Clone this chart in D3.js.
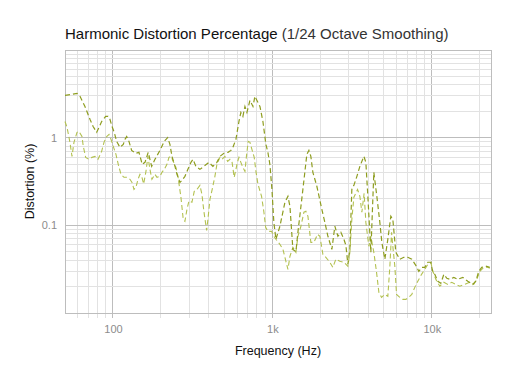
<!DOCTYPE html>
<html>
<head>
<meta charset="utf-8">
<script src="https://cdn.jsdelivr.net/npm/d3@7.9.0/dist/d3.min.js"></script>
<style>
  html, body { margin: 0; padding: 0; background: #fff; }
  svg { display: block; font-family: "Liberation Sans", Arial, sans-serif; }
</style>
</head>
<body>
<svg id="chart" width="512" height="384"></svg>
<script>
const titleMain = 'Harmonic Distortion Percentage';
const titleSub = ' (1/24 Octave Smoothing)';
const xLabel = 'Frequency (Hz)';
const yLabel = 'Distortion (%)';

const xDomain = [50, 23500];
const yDomain = [0.01, 10];
const xTicks = [100, 1000, 10000];
const xTickLabels = ['100', '1k', '10k'];
const yTicks = [0.1, 1];
const yTickLabels = ['0.1', '1'];

// darker series
const freqA = [50, 55.3, 59.5, 62.1, 66.7, 71.7, 74.9, 79, 81.7, 84.9, 90, 93.1, 95.7, 98.5, 101.8,
  105.4, 110.6, 116, 118.9, 121.9, 125.9, 130.9, 138.7, 145.5, 152.6, 158.7, 166.3, 174.8, 183.3,
  197, 209.7, 220.2, 227.6, 234.4, 244.8, 251.9, 263, 270.8, 282.6, 295, 308.3, 317.3, 331.3,
  350.8, 371.6, 399.6, 423.3, 448.5, 468.5, 496.4, 525.9, 549.4, 565, 590.3, 616.7, 634, 653,
  672.4, 692, 722.8, 755, 776.6, 799.8, 835, 871.8, 910, 937, 964, 993, 1021, 1052, 1114, 1198,
  1251, 1288, 1344, 1404, 1445, 1553, 1644, 1694, 1742, 1794, 1900, 2042, 2133, 2229, 2360, 2464,
  2575, 2689, 2808, 2890, 2974, 3060, 3149, 3243, 3387, 3537, 3747, 3856, 3969, 4144, 4327, 4519,
  4719, 4857, 5072, 5296, 5531, 5692, 5944, 6297, 6671, 7067, 7486, 7931, 8284, 8652, 9036, 9437,
  9856, 10144, 10440, 10903, 11387, 11893, 12420, 12972, 13741, 14556, 15640, 16804, 18055, 18857,
  19694, 20569, 21789, 23082];
const distA = [3.04, 3.12, 3.2, 2.96, 2.27, 1.62, 1.35, 1.15, 1.31, 1.53, 1.75, 1.75, 1.62, 1.35, 1.15,
  0.908, 0.775, 0.839, 0.956, 1.03, 0.908, 0.716, 0.662, 0.68, 0.496, 0.523, 0.68, 0.471, 0.566,
  0.716, 0.908, 1.0, 0.839, 0.612, 0.471, 0.382, 0.309, 0.326, 0.362, 0.435, 0.523, 0.566, 0.471,
  0.435, 0.471, 0.523, 0.471, 0.523, 0.612, 0.662, 0.68, 0.716, 0.775, 0.956, 1.53, 1.94, 1.75,
  2.27, 1.94, 2.66, 2.27, 2.96, 2.66, 2.27, 1.53, 0.839, 0.68, 0.496, 0.257, 0.108, 0.0693, 0.0975, 0.183,
  0.214, 0.165, 0.0532, 0.05, 0.0832, 0.257, 0.645, 0.716, 0.612, 0.402, 0.279, 0.152, 0.108, 0.075, 0.0532, 0.0975,
  0.075, 0.0832, 0.0693, 0.0591, 0.0359, 0.0532, 0.257, 0.286, 0.362, 0.471, 0.612, 0.523, 0.214, 0.0492, 0.402, 0.214,
  0.108, 0.064, 0.041, 0.0693, 0.127, 0.117, 0.0492, 0.041, 0.0432, 0.0432, 0.041, 0.035, 0.0299, 0.0332, 0.0332, 0.0379,
  0.0379, 0.0291, 0.0276, 0.023, 0.0218, 0.0276, 0.0249, 0.0242, 0.0255, 0.0242, 0.0255, 0.023, 0.0212, 0.023,
  0.0299, 0.0332, 0.0342, 0.0332];

// lighter series
const freqB = [50, 51.5, 53.7, 55.3, 56.9, 59.5, 61.2, 63.9, 65.1, 67.4, 70.7, 73.8, 77.1, 80.5, 84.9,
  87.8, 91.3, 94.4, 97.2, 100.4, 104.4, 107.9, 112.2, 117.2, 122.4, 127.8, 131.6, 135.4, 139.3,
  143.5, 147.6, 151.3, 155.7, 161, 165.6, 170.5, 175.5, 183.3, 188.7, 197, 202.8, 209.7, 218,
  224.4, 231, 238.7, 248.2, 255.5, 266.8, 275.8, 282.6, 291, 299.5, 312.7, 323.4, 336.3, 350.8,
  361.3, 371.6, 386.7, 394, 405.6, 419, 435.8, 448.5, 468.5, 482, 503.5, 523.7, 541.5, 557.4,
  575.8, 590.3, 603, 616.7, 634, 653, 672.4, 687, 705, 722.8, 743.6, 769, 788, 810.9, 855, 884.5,
  906.7, 937, 988, 1021, 1052, 1114, 1164, 1215, 1251, 1288, 1344, 1404, 1445, 1509, 1576, 1622,
  1670, 1742, 1820, 1919, 1985, 2073, 2164, 2292, 2393, 2500, 2648, 2808, 2974, 3060, 3149, 3243,
  3420, 3537, 3640, 3760, 3856, 4026, 4144, 4327, 4500, 4653, 4836, 5072, 5296, 5454, 5590, 5692,
  5860, 6006, 6297, 6578, 6870, 7172, 7486, 7817, 8164, 8618, 9036, 9437, 9856, 10144, 10590,
  11220, 11893, 12590, 13340, 14140, 14980, 16100, 17300, 18320, 19140, 20000, 21180, 22440, 23082];
const distB = [1.53, 1.31, 0.884, 0.612, 0.884, 1.15, 1.18, 1.03, 0.796, 0.596, 0.566, 0.596, 0.612, 0.566, 0.698,
  0.884, 1.03, 1.09, 0.956, 0.796, 0.645, 0.496, 0.382, 0.353, 0.353, 0.335, 0.309, 0.257, 0.271,
  0.335, 0.382, 0.362, 0.297, 0.413, 0.612, 0.435, 0.335, 0.382, 0.353, 0.362, 0.402, 0.435, 0.496,
  0.596, 0.612, 0.537, 0.458, 0.362, 0.209, 0.117, 0.111, 0.152, 0.19, 0.183, 0.244, 0.257, 0.286,
  0.226, 0.1445, 0.0877, 0.117, 0.198, 0.257, 0.362, 0.496, 0.596, 0.566, 0.612, 0.537, 0.566, 0.537,
  0.353, 0.435, 0.523, 0.596, 0.523, 0.458, 0.413, 0.612, 0.908, 0.884, 0.736, 0.596, 0.413, 0.297, 0.214, 0.141,
  0.0949, 0.0854, 0.0854, 0.075, 0.0693, 0.0607, 0.0532, 0.0389, 0.0315, 0.0443, 0.0561, 0.0492, 0.075, 0.0975, 0.141, 0.1445,
  0.127, 0.064, 0.064, 0.079, 0.075, 0.0467, 0.0432, 0.0379, 0.0332, 0.041, 0.0389, 0.0379, 0.0341, 0.0492, 0.117, 0.209,
  0.257, 0.214, 0.141, 0.232, 0.108, 0.0577, 0.075, 0.0492, 0.0291, 0.0172, 0.0151, 0.0163, 0.0155, 0.0341, 0.0832, 0.0577,
  0.0341, 0.0163, 0.0151, 0.0143, 0.0143, 0.0151, 0.0163, 0.0196, 0.023, 0.0276, 0.0315, 0.036, 0.0379, 0.0299, 0.0242,
  0.0202, 0.0224, 0.0212, 0.0224, 0.0212, 0.0202, 0.0212, 0.0224, 0.0212, 0.0242, 0.0299, 0.0332, 0.0332, 0.0324];

const colorA = '#8e9d1f';
const colorB = '#b3c150';

const margin = { top: 50, right: 21, bottom: 71, left: 65 };
const width = 512 - margin.left - margin.right;
const height = 384 - margin.top - margin.bottom;

const svg = d3.select('#chart');
const g = svg.append('g').attr('transform', `translate(${margin.left},${margin.top})`);

const x = d3.scaleLog().domain(xDomain).range([0, width]);
const y = d3.scaleLog().domain(yDomain).range([height, 0]);

// minor + major grid
const xGrid = [];
[10, 100, 1000, 10000].forEach((dec) => {
  for (let k = 1; k < 10; k++) {
    const v = dec * k;
    if (v > xDomain[0] && v < xDomain[1]) xGrid.push(v);
  }
});
const yGrid = [];
[0.01, 0.1, 1].forEach((dec) => {
  for (let k = 1; k < 10; k++) {
    const v = dec * k;
    if (v > yDomain[0] * 1.001 && v < yDomain[1] * 0.999) yGrid.push(v);
  }
});
const isMajor = (v) => Math.abs(Math.log10(v) - Math.round(Math.log10(v))) < 1e-6;

g.append('g')
  .selectAll('line')
  .data(xGrid)
  .join('line')
  .attr('x1', (d) => x(d))
  .attr('x2', (d) => x(d))
  .attr('y1', 0)
  .attr('y2', height + 5)
  .attr('stroke', (d) => (isMajor(d) ? '#bdbdbd' : '#e2e2e2'))
  .attr('stroke-width', 1)
  .attr('shape-rendering', 'crispEdges');

g.append('g')
  .selectAll('line')
  .data(yGrid)
  .join('line')
  .attr('x1', 0)
  .attr('x2', width)
  .attr('y1', (d) => y(d))
  .attr('y2', (d) => y(d))
  .attr('stroke', (d) => (isMajor(d) ? '#bdbdbd' : '#e2e2e2'))
  .attr('stroke-width', 1)
  .attr('shape-rendering', 'crispEdges');

g.append('rect')
  .attr('width', width)
  .attr('height', height)
  .attr('fill', 'none')
  .attr('stroke', '#bdbdbd')
  .attr('shape-rendering', 'crispEdges');

// axes
const xAxis = d3.axisBottom(x)
  .tickValues(xTicks)
  .tickFormat((d, i) => xTickLabels[i])
  .tickSize(0)
  .tickPadding(12);
const gx = g.append('g').attr('transform', `translate(0,${height})`).call(xAxis);
gx.select('.domain').remove();
gx.selectAll('text').attr('fill', '#8c8c8c').style('font-size', '11px');

const yAxis = d3.axisLeft(y)
  .tickValues(yTicks)
  .tickFormat((d, i) => yTickLabels[i])
  .tickSize(0)
  .tickPadding(8);
const gy = g.append('g').call(yAxis);
gy.select('.domain').remove();
gy.selectAll('text').attr('fill', '#8c8c8c').style('font-size', '11px');

// lines
const line = d3.line()
  .x((d) => x(d[0]))
  .y((d) => y(d[1]));

const seriesB = freqB.map((f, i) => [f, distB[i]]);
const seriesA = freqA.map((f, i) => [f, distA[i]]);

g.append('path')
  .datum(seriesB)
  .attr('d', line)
  .attr('fill', 'none')
  .attr('stroke', colorB)
  .attr('stroke-width', 1.1)
  .attr('stroke-dasharray', '5,3');

g.append('path')
  .datum(seriesA)
  .attr('d', line)
  .attr('fill', 'none')
  .attr('stroke', colorA)
  .attr('stroke-width', 1.2)
  .attr('stroke-dasharray', '5,3');

// titles
const title = svg.append('text')
  .attr('x', margin.left)
  .attr('y', 39)
  .style('font-size', '15px')
  .attr('fill', '#111');
title.append('tspan').text(titleMain).style('font-weight', '500');
title.append('tspan').text(titleSub).attr('fill', '#333');

svg.append('text')
  .attr('x', margin.left + width / 2)
  .attr('y', 355)
  .attr('text-anchor', 'middle')
  .style('font-size', '12.5px')
  .attr('fill', '#111')
  .text(xLabel);

svg.append('text')
  .attr('transform', `translate(34,${margin.top + height / 2}) rotate(-90)`)
  .attr('text-anchor', 'middle')
  .style('font-size', '12.5px')
  .attr('fill', '#111')
  .text(yLabel);
</script>
</body>
</html>
